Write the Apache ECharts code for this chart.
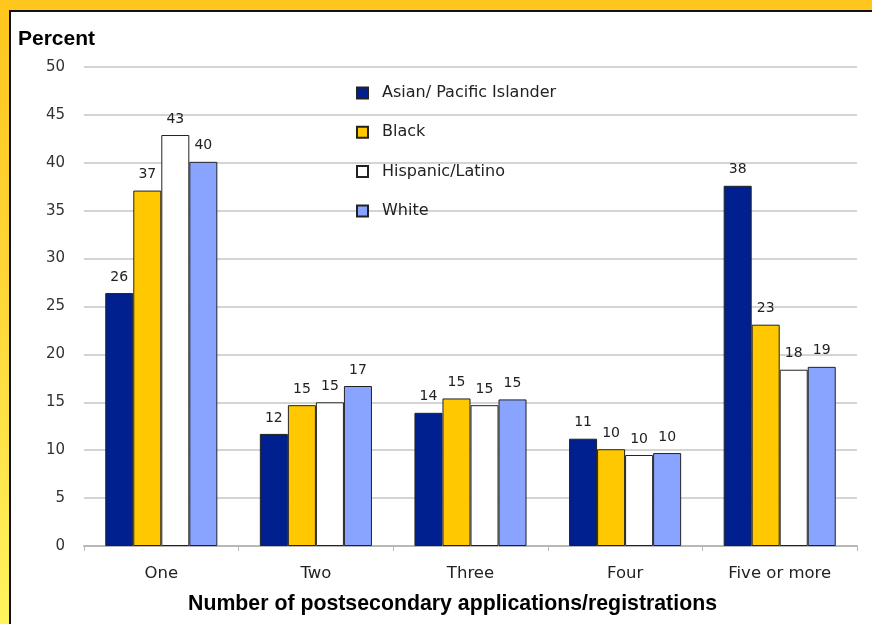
<!DOCTYPE html>
<html>
<head>
<meta charset="utf-8">
<script src="https://cdn.jsdelivr.net/npm/echarts@6/dist/echarts.min.js"></script>
<style>
    html, body { margin: 0; padding: 0; }
    body {
        width: 872px; height: 624px; overflow: hidden; position: relative;
        background: linear-gradient(180deg, #ffc61e 0%, #ffd83a 50%, #fff45e 100%);
    }
    #frame {
        position: absolute; left: 9px; top: 10px; right: -5px; bottom: -5px;
        background: #fff; border-left: 2px solid #111; border-top: 2px solid #111;
    }
    #chart { position: absolute; left: 0; top: 0; width: 872px; height: 624px; }
</style>
</head>
<body>
<div id="frame"></div>
<div id="chart"></div>
<script>
    let categories = ['One', 'Two', 'Three', 'Four', 'Five or more'];
    let groups = ['Asian/ Pacific Islander', 'Black', 'Hispanic/Latino', 'White'];
    let asian = [26.4, 11.7, 13.9, 11.2, 37.6];
    let black = [37.1, 14.7, 15.4, 10.1, 23.1];
    let hispanic = [42.9, 15.0, 14.7, 9.5, 18.4];
    let white = [40.1, 16.7, 15.3, 9.7, 18.7];
    let colors = ['#00208f', '#ffc800', '#ffffff', '#89a4ff'];

    let font = 'DejaVu Sans';

    let make_series = function (name, data, color) {
        return {
            name: name,
            type: 'bar',
            data: data,
            barGap: '0%',
            barCategoryGap: '27.5%',
            itemStyle: {color: color, borderColor: '#222', borderWidth: 1},
            label: {
                show: true,
                position: 'top',
                distance: 9,
                fontFamily: font,
                fontSize: 14,
                color: '#222',
                formatter: function (p) {
                    return Math.round(p.value);
                }
            }
        };
    };

    let container = echarts.init(document.getElementById('chart'));
    let option = {
        animation: false,
        title: {
            text: 'Percent',
            left: 13,
            top: 24,
            textStyle: {fontFamily: 'Liberation Sans', fontWeight: 'bold', fontSize: 21, color: '#000'}
        },
        legend: {
            orient: 'vertical',
            left: 351,
            top: 80,
            itemWidth: 11,
            itemHeight: 11,
            itemGap: 23.3,
            icon: 'rect',
            data: groups,
            textStyle: {fontFamily: font, fontSize: 16, color: '#222', padding: [0, 0, 0, 9]}
        },
        grid: {left: 84, right: 15, top: 67, bottom: 78, outerBoundsMode: 'none'},
        xAxis: {
            type: 'category',
            data: categories,
            name: 'Number of postsecondary applications/registrations',
            nameLocation: 'middle',
            nameGap: 48,
            nameTextStyle: {
                fontFamily: 'Liberation Sans', fontWeight: 'bold', fontSize: 21.3, color: '#000',
                padding: [0, 36, 0, 0]
            },
            axisLine: {lineStyle: {color: '#b8b8b8', width: 2}},
            axisTick: {show: true, length: 5, lineStyle: {color: '#b8b8b8'}},
            axisLabel: {fontFamily: font, fontSize: 16.5, color: '#222', margin: 19}
        },
        yAxis: {
            type: 'value',
            min: 0,
            max: 50,
            interval: 5,
            axisLine: {show: false},
            axisTick: {show: false},
            axisLabel: {fontFamily: font, fontSize: 15, color: '#333', margin: 19},
            splitLine: {lineStyle: {color: '#d4d4d4', width: 2}}
        },
        series: [
            make_series(groups[0], asian, colors[0]),
            make_series(groups[1], black, colors[1]),
            make_series(groups[2], hispanic, colors[2]),
            make_series(groups[3], white, colors[3])
        ]
    };
    container.setOption(option, true);
</script>
</body>
</html>
